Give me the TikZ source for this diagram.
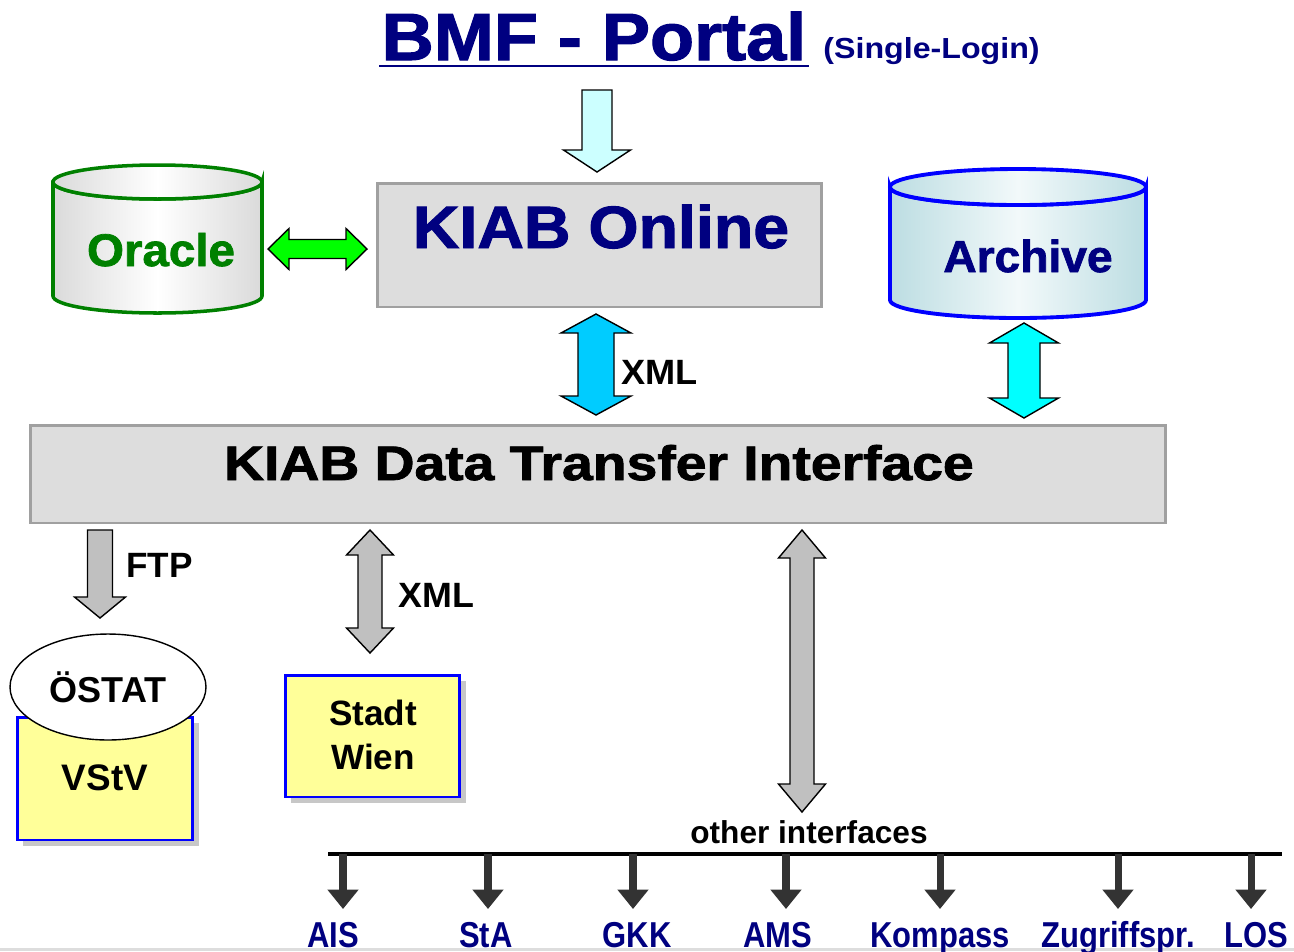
\documentclass[tikz,border=0pt]{standalone}
\usepackage{fontspec}
\setmainfont{Liberation Sans}
\newfontfamily\heavyfont[BoldFeatures={FakeBold=1.6}]{Liberation Sans}
\usetikzlibrary{positioning,calc,shapes.geometric,shadows,arrows.meta}

\definecolor{navy}{RGB}{0,0,128}
\definecolor{boxgrey}{RGB}{221,221,221}
\definecolor{boxborder}{RGB}{160,160,160}
\definecolor{oraclegreen}{RGB}{0,128,0}
\definecolor{cylgrey}{RGB}{218,218,218}
\definecolor{archedge}{RGB}{188,221,226}
\definecolor{archmid}{RGB}{242,249,250}
\definecolor{palecyan}{RGB}{204,255,255}
\definecolor{xmlcyan}{RGB}{0,204,255}
\definecolor{archcyan}{RGB}{0,255,255}
\definecolor{brightgreen}{RGB}{0,255,0}
\definecolor{arrowgrey}{RGB}{192,192,192}
\definecolor{darkarrow}{RGB}{51,51,51}
\definecolor{paleyellow}{RGB}{255,255,153}

% block arrows: style, start, tip, half head, half shaft, head length
\newcommand\downblock[6]{\draw[#1] ($(#2)+(-#5,0)$) -- ($(#2)+(#5,0)$) -- ($(#3)+(#5,-#6)$) -- ($(#3)+(#4,-#6)$) -- (#3) -- ($(#3)+(-#4,-#6)$) -- ($(#3)+(-#5,-#6)$) -- cycle;}
\newcommand\vdblblock[6]{\draw[#1] (#2) -- ($(#2)+(#4,#6)$) -- ($(#2)+(#5,#6)$) -- ($(#3)+(#5,-#6)$) -- ($(#3)+(#4,-#6)$) -- (#3) -- ($(#3)+(-#4,-#6)$) -- ($(#3)+(-#5,-#6)$) -- ($(#2)+(-#5,#6)$) -- ($(#2)+(-#4,#6)$) -- cycle;}
\newcommand\hdblblock[6]{\draw[#1] (#2) -- ($(#2)+(#6,-#4)$) -- ($(#2)+(#6,-#5)$) -- ($(#3)+(-#6,-#5)$) -- ($(#3)+(-#6,-#4)$) -- (#3) -- ($(#3)+(-#6,#4)$) -- ($(#3)+(-#6,#5)$) -- ($(#2)+(#6,#5)$) -- ($(#2)+(#6,#4)$) -- cycle;}

\begin{document}
\begin{tikzpicture}[x=0.02cm,y=-0.02cm,
  every node/.style={inner sep=0pt},
  txt/.style={font=\fontsize{#1}{#1}\selectfont\bfseries},
  heavy/.style={font=\fontsize{#1}{#1}\selectfont\heavyfont\bfseries},
  greybox/.style={draw=boxborder,fill=boxgrey,line width=1.7pt},
  yellowbox/.style={draw=blue,fill=paleyellow,line width=1.7pt,
    drop shadow={opacity=1,fill=black!22,shadow xshift=1.2mm,shadow yshift=-1.2mm}},
  blockarrow/.style={draw=black,line width=0.8pt,line join=miter,fill=#1},
  smallarrow/.style={darkarrow,line width=4pt,-{Triangle[width=17pt,length=11pt]}}]

\useasboundingbox (0,0) rectangle (1294,951);
\fill[white] (0,0) rectangle (1294,951);
\fill[boxgrey] (0,948) rectangle (1294,951);

% title
\node[heavy=38,text=navy,anchor=base,xscale=1.08] (portal) at (594,60) {BMF - Portal};
\draw[navy,line width=1.7pt] ($(portal.base west)+(-2,6)$) -- ($(portal.base east)+(2,6)$);
\node[txt=16.5,text=navy,anchor=base west,xscale=1.11] (login) at (823,58) {(Single-Login)};

% Oracle cylinder
\draw[draw=oraclegreen,line width=2pt,left color=cylgrey,right color=cylgrey,middle color=white]
  (53,182) -- (53,296) arc[start angle=180,end angle=0,x radius=104.5,y radius=17]
  -- (262,182) arc[start angle=0,end angle=180,x radius=104.5,y radius=17] -- cycle;
\draw[draw=oraclegreen,line width=2pt,left color=cylgrey,right color=cylgrey,middle color=white]
  (157.5,182) ellipse[x radius=104.5,y radius=17];
\node[heavy=26,text=oraclegreen,anchor=base,xscale=1.04] (oracle) at (161,266) {Oracle};

% Archive cylinder
\draw[draw=blue,line width=2.2pt,left color=archedge,right color=archedge,middle color=archmid]
  (890,187) -- (890,300) arc[start angle=180,end angle=0,x radius=128,y radius=18]
  -- (1146,187) arc[start angle=0,end angle=180,x radius=128,y radius=18] -- cycle;
\draw[draw=blue,line width=2.2pt,left color=archedge,right color=archedge,middle color=archmid]
  (1018,187) ellipse[x radius=128,y radius=18];
\node[heavy=25.5,text=navy,anchor=base,xscale=1.03] (archive) at (1028,272) {Archive};

% KIAB Online
\node[greybox,minimum width=8.9cm,minimum height=2.48cm] (kiab) at (599.5,245) {};
\node[heavy=34,text=navy,anchor=base,xscale=1.08] (kiabtxt) at (601,248) {KIAB Online};

% data transfer interface
\node[greybox,minimum width=22.72cm,minimum height=1.96cm] (dti) at (598,474) {};
\node[heavy=27.6,anchor=base,xscale=1.14] (dtitxt) at (599,480) {KIAB Data Transfer Interface};

% arrow ends
\coordinate (p-top) at (597,90);
\coordinate (p-tip) at (597,172);
\coordinate (g-l) at (268,249);
\coordinate (g-r) at (367,249);
\coordinate (x1-t) at (596,314);
\coordinate (x1-b) at (596,415);
\coordinate (a-t) at (1024,323);
\coordinate (a-b) at (1024,418);
\coordinate (f-t) at (100,530);
\coordinate (f-b) at (100,618);
\coordinate (x2-t) at (370,530);
\coordinate (x2-b) at (370,653);
\coordinate (l-t) at (802,530);
\coordinate (l-b) at (802,812);

\downblock{blockarrow=palecyan}{p-top}{p-tip}{33.5}{15}{22}
\hdblblock{blockarrow=brightgreen}{g-l}{g-r}{20.5}{9.5}{21}
\vdblblock{blockarrow=xmlcyan}{x1-t}{x1-b}{35}{18}{19}
\vdblblock{blockarrow=archcyan}{a-t}{a-b}{34.5}{16}{20}
\downblock{blockarrow=arrowgrey}{f-t}{f-b}{25.5}{12.5}{21}
\vdblblock{blockarrow=arrowgrey}{x2-t}{x2-b}{23.5}{12}{25}
\vdblblock{blockarrow=arrowgrey}{l-t}{l-b}{23.5}{12}{28}

\node[txt=20,anchor=base west,xscale=1.03] (xml1) at (621,384) {XML};
\node[txt=20,anchor=base west] (ftp) at (126,577) {FTP};
\node[txt=20,anchor=base west,xscale=1.02] (xml2) at (398,607) {XML};

% receivers
\node[yellowbox,minimum width=3.52cm,minimum height=2.46cm] (vstv) at (105,778.5) {};
\node[txt=21,anchor=base] (vstvtxt) at (105,790) {VStV};
\node[ellipse,draw,fill=white,line width=0.8pt,minimum width=3.92cm,minimum height=2.12cm,txt=20.5] (ostat) at (108,687) {ÖSTAT};
\node[yellowbox,minimum width=3.5cm,minimum height=2.44cm] (wien) at (372.5,736) {};
\node[align=center,font=\fontsize{20}{25.5}\selectfont\bfseries] (wientxt) at (373,735) {Stadt\\Wien};

% other interfaces
\node[txt=18,anchor=base] (others) at (809,843) {other interfaces};
\coordinate (bus-w) at (328,854);
\coordinate (bus-e) at (1282,854);
\draw[line width=2.3pt] (bus-w) -- (bus-e);

\foreach \ax/\lx/\t [count=\i] in {343/333/AIS,488/486/StA,633/637/GKK,786/778/AMS,940/940/Kompass,1118/1118/Zugriffspr.,1251/1256/LOS}{
  \coordinate (top\i) at (\ax,854);
  \coordinate (tip\i) at (\ax,909);
  \draw[smallarrow] (top\i) -- (tip\i);
  \node[txt=20.5,text=navy,anchor=base,xscale=0.86] (if\i) at (\lx,947) {\t};
}

\end{tikzpicture}
\end{document}
